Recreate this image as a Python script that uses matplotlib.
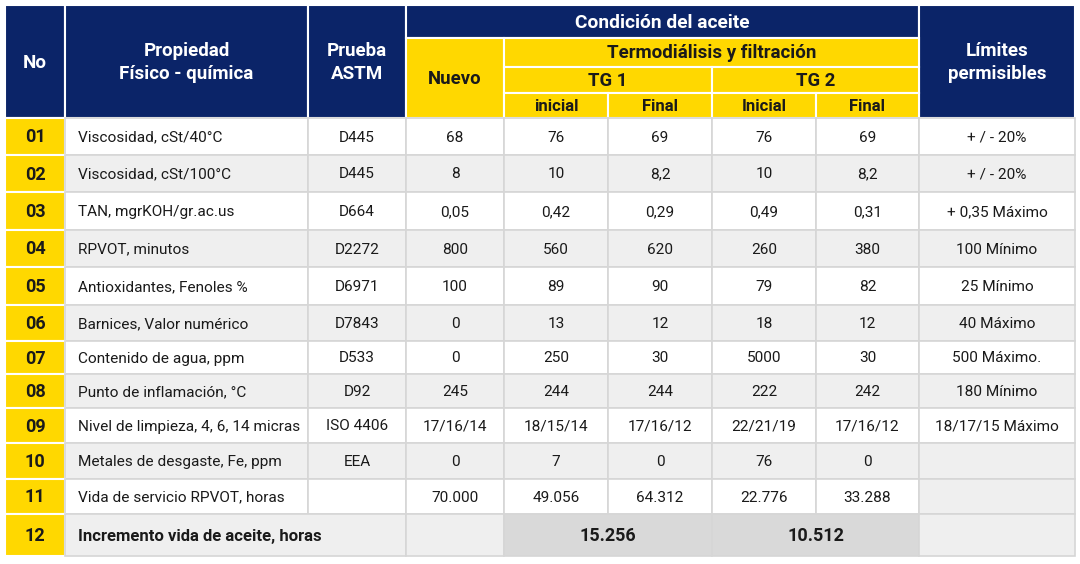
import matplotlib.pyplot as plt
from matplotlib.patches import Rectangle

plt.rcParams['font.family'] = ['Roboto', 'DejaVu Sans']

# Datos
numeros = ['01', '02', '03', '04', '05', '06', '07', '08', '09', '10', '11']
propiedades = ['Viscosidad, cSt/40°C', 'Viscosidad, cSt/100°C', 'TAN, mgrKOH/gr.ac.us',
               'RPVOT, minutos', 'Antioxidantes, Fenoles %', 'Barnices, Valor numérico',
               'Contenido de agua, ppm', 'Punto de inflamación, °C',
               'Nivel de limpieza, 4, 6, 14 micras', 'Metales de desgaste, Fe, ppm',
               'Vida de servicio RPVOT, horas']
pruebas = ['D445', 'D445', 'D664', 'D2272', 'D6971', 'D7843', 'D533', 'D92', 'ISO 4406', 'EEA', '']
nuevo = ['68', '8', '0,05', '800', '100', '0', '0', '245', '17/16/14', '0', '70.000']
tg1_inicial = ['76', '10', '0,42', '560', '89', '13', '250', '244', '18/15/14', '7', '49.056']
tg1_final = ['69', '8,2', '0,29', '620', '90', '12', '30', '244', '17/16/12', '0', '64.312']
tg2_inicial = ['76', '10', '0,49', '260', '79', '18', '5000', '222', '22/21/19', '76', '22.776']
tg2_final = ['69', '8,2', '0,31', '380', '82', '12', '30', '242', '17/16/12', '0', '33.288']
limites = ['+ / - 20%', '+ / - 20%', '+ 0,35 Máximo', '100 Mínimo', '25 Mínimo', '40 Máximo',
           '500 Máximo.', '180 Mínimo', '18/17/15 Máximo', '', '']
incremento_label = 'Incremento vida de aceite, horas'
incremento_tg1 = '15.256'
incremento_tg2 = '10.512'

NAVY = '#0b2468'
YELLOW = '#ffd800'
GRIS = '#efefef'
GRIS_OSC = '#d9d9d9'
LINEA = '#d6d6d6'
TEXTO = '#1a1a1a'

xs = [5, 65, 308, 406, 504, 608, 712, 816, 919, 1075]
hy = [5, 38, 67, 93, 118]
ys = [118, 155, 192, 230, 267, 305, 341, 374, 408, 443, 479, 514, 556]

fig = plt.figure(figsize=(10.8, 5.64), dpi=100)
ax = fig.add_axes([0, 0, 1, 1])
ax.set_xlim(0, 1080)
ax.set_ylim(564, 0)
ax.axis('off')


def celda(c0, c1, y0, y1, fc, ec, texto='', color=TEXTO, bold=False, size=11.1, ha='center', lw=1.2):
    x0, x1 = xs[c0], xs[c1]
    ax.add_patch(Rectangle((x0, y0), x1 - x0, y1 - y0, facecolor=fc, edgecolor=ec, linewidth=lw))
    if texto:
        tx = (x0 + x1) / 2 if ha == 'center' else x0 + 13
        ax.text(tx, (y0 + y1) / 2 + 1, texto, ha=ha, va='center', color=color,
                fontsize=size, fontweight='bold' if bold else 'normal', linespacing=1.3)


# Encabezado
celda(0, 1, hy[0], hy[4], NAVY, 'white', 'No', 'white', True, 13.5, lw=1.5)
celda(1, 2, hy[0], hy[4], NAVY, 'white', 'Propiedad\nFísico - química', 'white', True, 13.5, lw=1.5)
celda(2, 3, hy[0], hy[4], NAVY, 'white', 'Prueba\nASTM', 'white', True, 13.5, lw=1.5)
celda(3, 8, hy[0], hy[1], NAVY, 'white', 'Condición del aceite', 'white', True, 13.8, lw=1.5)
celda(8, 9, hy[0], hy[4], NAVY, 'white', 'Límites\npermisibles', 'white', True, 13.5, lw=1.5)
celda(3, 4, hy[1], hy[4], YELLOW, 'white', 'Nuevo', TEXTO, True, 13.3, lw=1.5)
celda(4, 8, hy[1], hy[2], YELLOW, 'white', 'Termodiálisis y filtración', TEXTO, True, 13.5, lw=1.5)
celda(4, 6, hy[2], hy[3], YELLOW, 'white', 'TG 1', TEXTO, True, 13.3, lw=1.5)
celda(6, 8, hy[2], hy[3], YELLOW, 'white', 'TG 2', TEXTO, True, 13.3, lw=1.5)
for c, t in zip(range(4, 8), ['inicial', 'Final', 'Inicial', 'Final']):
    celda(c, c + 1, hy[3], hy[4], YELLOW, 'white', t, TEXTO, True, 12, lw=1.5)

# Filas de datos
for i in range(len(numeros)):
    y0, y1 = ys[i], ys[i + 1]
    fc = 'white' if i % 2 == 0 else GRIS
    celda(0, 1, y0, y1, YELLOW, 'white', numeros[i], TEXTO, True, 13, lw=1.5)
    celda(1, 2, y0, y1, fc, LINEA, propiedades[i], ha='left')
    celda(2, 3, y0, y1, fc, LINEA, pruebas[i])
    celda(3, 4, y0, y1, fc, LINEA, nuevo[i])
    celda(4, 5, y0, y1, fc, LINEA, tg1_inicial[i])
    celda(5, 6, y0, y1, fc, LINEA, tg1_final[i])
    celda(6, 7, y0, y1, fc, LINEA, tg2_inicial[i])
    celda(7, 8, y0, y1, fc, LINEA, tg2_final[i])
    celda(8, 9, y0, y1, fc if limites[i] else GRIS, LINEA, limites[i])

# Fila 12
y0, y1 = ys[11], ys[12]
celda(0, 1, y0, y1, YELLOW, 'white', '12', TEXTO, True, 13, lw=1.5)
celda(1, 3, y0, y1, GRIS, LINEA, incremento_label, TEXTO, True, 12, ha='left')
celda(3, 4, y0, y1, GRIS, LINEA)
celda(4, 6, y0, y1, GRIS_OSC, LINEA, incremento_tg1, TEXTO, True, 13)
celda(6, 8, y0, y1, GRIS_OSC, LINEA, incremento_tg2, TEXTO, True, 13)
celda(8, 9, y0, y1, GRIS, LINEA)

fig.savefig('out.png', dpi=100, facecolor='white')
